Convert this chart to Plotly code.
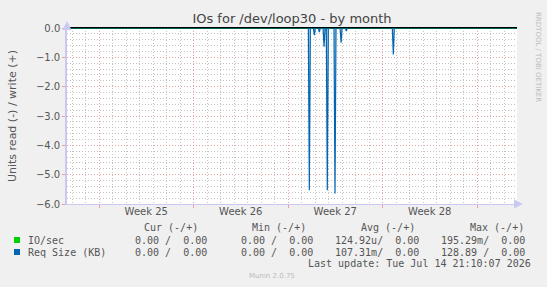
import plotly.graph_objects as go

# ---- data ----
week_labels = ["Week 25", "Week 26", "Week 27", "Week 28"]
week_starts = [2.37, 9.37, 16.37, 23.37, 30.37]      # day offsets of week boundaries
week_mids = [5.87, 12.87, 19.87, 26.87]
span_days = 33.33
step = 0.075                                          # ~2-hour sample step (days)

# Req Size (KB) read spikes (plotted negative)
spike_days = [17.95, 18.32, 18.69, 19.04, 19.28, 19.85, 20.30, 20.69, 24.17]
spike_vals = [-5.53, -0.24, -0.14, -0.64, -5.53, -5.64, -0.50, -0.10, -0.90]

series_names = ["IO/sec", "Req Size (KB)"]
series_colors = ["#00cc00", "#0066b3"]
cur_vals = ["0.00 /  0.00", "0.00 /  0.00"]
min_vals = ["0.00 /  0.00", "0.00 /  0.00"]
avg_vals = ["124.92u/  0.00", "107.31m/  0.00"]
max_vals = ["195.29m/  0.00", "128.89 /  0.00"]
last_update = "Last update: Tue Jul 14 21:10:07 2026"

# ---- build line from spike samples ----
xs, ys = [0.0], [0.0]
for d, v in zip(spike_days, spike_vals):
    xs += [d - step, d, d + step]
    ys += [0.0, v, 0.0]
xs.append(span_days)
ys.append(0.0)

fig = go.Figure()
fig.add_trace(go.Scatter(x=[0, span_days], y=[0, 0], mode="lines",
                         line=dict(color=series_colors[0], width=1),
                         hoverinfo="skip", showlegend=False))
fig.add_trace(go.Scatter(x=xs, y=ys, mode="lines",
                         line=dict(color=series_colors[1], width=1.2),
                         fill="tozeroy", fillcolor="rgba(0,102,179,0.25)",
                         hoverinfo="skip", showlegend=False))
# invisible trace to activate label axis
fig.add_trace(go.Scatter(x=[0, span_days], y=[0, 0], xaxis="x2", mode="lines",
                         line=dict(width=0), opacity=0, hoverinfo="skip",
                         showlegend=False))

mono = "DejaVu Sans Mono"
sans = "DejaVu Sans"
txt = "#555555"
major = "#e6a0a0"
minor_c = "#c4c4c4"
axis_c = "#c8c8f0"
dash = "1px,2px"

L, R, T, B = 67, 517, 28, 204
W, H = 547, 287

fig.update_layout(
    width=W, height=H,
    margin=dict(l=L, r=W - R, t=T, b=H - B),
    paper_bgcolor="#f0f0f0", plot_bgcolor="#ffffff",
    showlegend=False,
    title=dict(text="IOs for /dev/loop30 - by month", x=0.5, xanchor="center",
               xref="paper", y=1 - 18 / H, yanchor="middle", yref="container",
               font=dict(family=sans, size=13, color="#444444")),
    xaxis=dict(range=[0, span_days], tickmode="array", tickvals=week_starts,
               showticklabels=False, showgrid=True, gridcolor=major,
               griddash=dash, gridwidth=1, ticks="outside", ticklen=3,
               tickcolor=major, zeroline=False,
               showline=True, linecolor=axis_c, linewidth=1,
               minor=dict(tickmode="linear", tick0=week_starts[0], dtick=1,
                          showgrid=True, gridcolor=minor_c, griddash=dash,
                          gridwidth=1, ticks=""),
               fixedrange=True),
    xaxis2=dict(range=[0, span_days], overlaying="x", anchor="y", side="bottom",
                tickmode="array", tickvals=week_mids, ticktext=week_labels,
                showgrid=False, zeroline=False, ticks="", showline=False,
                tickfont=dict(family=sans, size=10, color=txt)),
    yaxis=dict(range=[-6.0, 0.0], tickmode="linear", tick0=0, dtick=1,
               tickformat=".1f", showgrid=True, gridcolor=major,
               griddash=dash, gridwidth=1, ticks="outside", ticklen=3,
               tickcolor=major,
               zeroline=True, zerolinecolor="#000000", zerolinewidth=1.5,
               showline=True, linecolor=axis_c, linewidth=1.5,
               tickfont=dict(family=sans, size=10, color=txt),
               title=dict(text="Units read (-) / write (+)", standoff=17,
                          font=dict(family=sans, size=11, color=txt)),
               minor=dict(tickmode="linear", tick0=0, dtick=0.2, showgrid=True,
                          gridcolor=minor_c, griddash=dash, gridwidth=1),
               fixedrange=True),
)

def px_x(x):
    return (x - L) / (R - L)

def px_y(y):
    return (B - y) / (B - T)

ann = []
def add(text, x, y, anchor="left", size=10, color=txt, family=mono):
    ann.append(dict(text=text, x=px_x(x), y=px_y(y), xref="paper", yref="paper",
                    xanchor=anchor, yanchor="middle", showarrow=False,
                    font=dict(family=family, size=size, color=color)))

# side text
ann.append(dict(text="RRDTOOL / TOBI OETIKER", x=px_x(538), y=px_y(57),
                xref="paper", yref="paper", showarrow=False, textangle=90,
                xanchor="center", yanchor="middle",
                font=dict(family=sans, size=7, color="#bbbbbb")))

# legend headers
add("Cur (-/+)", 200, 227, "right")
add("Min (-/+)", 308, 227, "right")
add("Avg (-/+)", 417, 227, "right")
add("Max (-/+)", 526, 227, "right")

row_y = [240, 252]
for i, name in enumerate(series_names):
    y = row_y[i]
    add(name, 26, y, "left")
    add(cur_vals[i], 209, y, "right")
    add(min_vals[i], 315, y, "right")
    add(avg_vals[i], 421, y, "right")
    add(max_vals[i], 527, y, "right")

add(last_update, 533, 263, "right")
add("Munin 2.0.75", 272, 276, "center", size=7, color="#bbbbbb", family=sans)

# axis arrows
ann.append(dict(x=px_x(L), y=px_y(21), xref="paper", yref="paper", text="",
                showarrow=True, ax=0, ay=8, arrowhead=2, arrowsize=1.2,
                arrowwidth=1.5, arrowcolor=axis_c))
ann.append(dict(x=px_x(523), y=px_y(B), xref="paper", yref="paper", text="",
                showarrow=True, ax=-8, ay=0, arrowhead=2, arrowsize=1.2,
                arrowwidth=1.5, arrowcolor=axis_c))

fig.update_layout(annotations=ann)

# legend colour squares
for i, c in enumerate(series_colors):
    y = row_y[i]
    fig.add_shape(type="rect", xref="paper", yref="paper",
                  x0=px_x(14), x1=px_x(20), y0=px_y(y + 3), y1=px_y(y - 3),
                  fillcolor=c, line=dict(width=0))

fig.write_html("out.html")
